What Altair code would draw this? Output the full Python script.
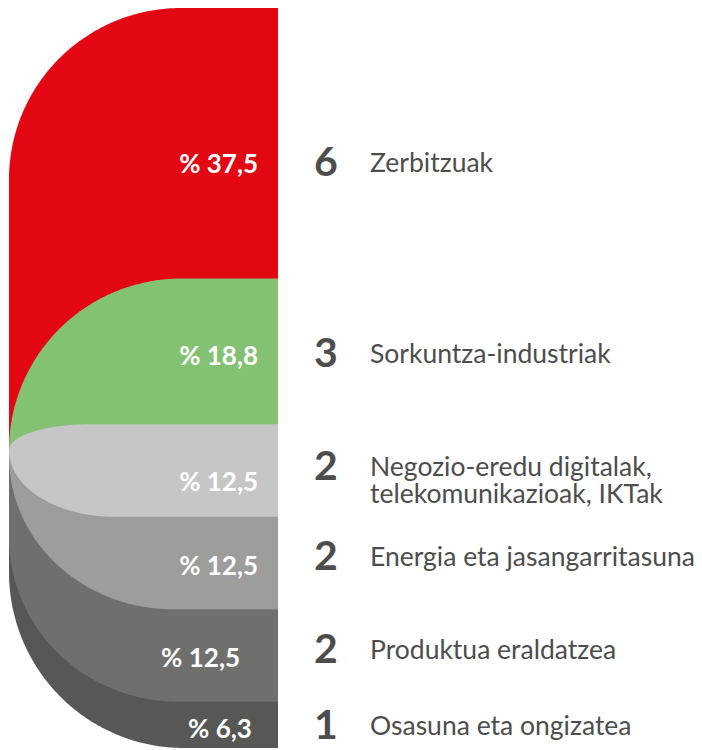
import numpy as np
import pandas as pd
import altair as alt

# ---- data ----
categories = ["Zerbitzuak", "Sorkuntza-industriak",
              "Negozio-eredu digitalak,\ntelekomunikazioak, IKTak",
              "Energia eta jasangarritasuna", "Produktua eraldatzea",
              "Osasuna eta ongizatea"]
counts = [6, 3, 2, 2, 2, 1]
percents = [37.5, 18.8, 12.5, 12.5, 12.5, 6.3]
colors = ["#e30613", "#84c273", "#c6c6c6", "#9d9d9c", "#6f6f6e", "#575756"]

total = sum(counts)
cum = np.concatenate([[0], np.cumsum(counts)]).astype(float)

# ---- geometry (style constants, in count units / shape-width units) ----
tip = cum[2] + 0.28 * (cum[3] - cum[2])   # left point of the flat middle slice
RX_TOP = 0.64
RY_TOP = tip - cum[1] + 0.15

phi = np.linspace(0, np.pi / 2, 120)


def e(x, rx):
    """vertical fraction of an elliptic corner of half-width rx at position x"""
    t = np.clip((rx - x) / rx, 0, 1)
    return np.sqrt(1 - t ** 2)


def grid(*rxs):
    g = [np.array([0.0, 1.0])]
    for rx in rxs:
        g.append(rx * (1 - np.cos(phi)))
    return np.unique(np.concatenate(g))


shapes = {}
g = grid(RX_TOP)
shapes[0] = (g, cum[0] + RY_TOP - RY_TOP * e(g, RX_TOP), np.full_like(g, tip + 0.5))
shapes[1] = (g, tip - RY_TOP * e(g, RX_TOP), np.full_like(g, tip + 0.5))
g = grid(0.30, 0.39)
shapes[2] = (g, tip - (tip - cum[2]) * e(g, 0.30), tip + (cum[3] - tip) * e(g, 0.39))
for k, i in enumerate([3, 4, 5]):
    ry = 3.3 + 0.25 * k
    rx = 0.61 + 0.02 * k
    g = grid(rx)
    bot = cum[i + 1] - ry + ry * e(g, rx)
    shapes[i] = (g, np.full_like(g, tip), np.maximum(bot, tip))

x_scale = alt.Scale(domain=[-1 / 269, 685 / 269], nice=False, zero=False)
y_scale = alt.Scale(domain=[0, total], reverse=True, nice=False, zero=False)

draw_order = [0, 1, 5, 4, 3, 2]
layers = []
for i in draw_order:
    xs, top, bot = shapes[i]
    df = pd.DataFrame({"x": xs, "top": top, "bot": bot})
    layers.append(
        alt.Chart(df).mark_area(color=colors[i], strokeWidth=0)
        .encode(
            x=alt.X("x:Q", scale=x_scale, axis=None),
            y=alt.Y("top:Q", scale=y_scale, axis=None),
            y2="bot:Q",
        )
    )

mids = [(cum[i] + cum[i + 1]) / 2 for i in range(len(counts))]
pct_dy = [0.4, 0.05, 0.28, 0.08, 0.08, 0.1]
lab_dy = [0.37, 0, -0.05, -0.1, -0.1, 0.05]
pct_x = [0.926, 0.926, 0.926, 0.926, 0.859, 0.903]
lab = pd.DataFrame({
    "ypct": [m + d for m, d in zip(mids, pct_dy)],
    "ylab": [m + d for m, d in zip(mids, lab_dy)],
    "pct": ["% " + f"{p:.1f}".replace(".", ",") for p in percents],
    "count": [str(c) for c in counts],
    "name": categories,
    "xp": pct_x,
    "xn": 1.178,
    "xt": 1.342,
})

pct_text = alt.Chart(lab).mark_text(
    align="right", baseline="middle", font="Lato", fontWeight="bold",
    fontSize=26, color="white"
).encode(x=alt.X("xp:Q", scale=x_scale), y=alt.Y("ypct:Q", scale=y_scale), text="pct:N")

num_text = alt.Chart(lab).mark_text(
    align="center", baseline="middle", font="Lato", fontWeight="bold",
    fontSize=41, color="#4d4d4d"
).encode(x=alt.X("xn:Q", scale=x_scale), y=alt.Y("ylab:Q", scale=y_scale), text="count:N")

name_text = alt.Chart(lab).mark_text(
    align="left", baseline="middle", font="Lato", fontSize=26.5,
    color="#4d4d4d", lineBreak="\n", lineHeight=27
).encode(x=alt.X("xt:Q", scale=x_scale), y=alt.Y("ylab:Q", scale=y_scale), text="name:N")

chart = alt.layer(*layers, pct_text, num_text, name_text).properties(
    width=686, height=740, padding=0, autosize=alt.AutoSizeParams(type="none")
).configure(background="white").configure_view(stroke=None)

chart.save("out.html", embed_options={"renderer": "svg", "actions": False})
